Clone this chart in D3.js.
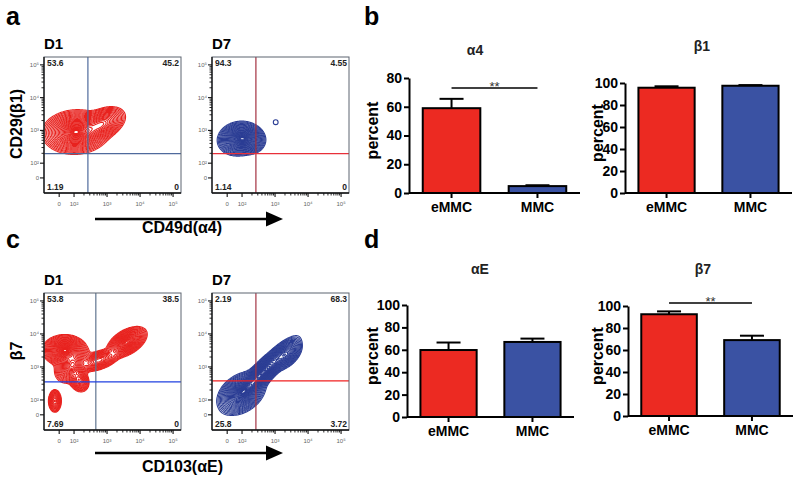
<!DOCTYPE html>
<html><head><meta charset="utf-8">
<script src="https://cdn.jsdelivr.net/npm/d3@7"></script>
<style>body{margin:0;background:#fff}svg{display:block;font-family:"Liberation Sans",Arial,sans-serif}</style>
</head><body><svg id="fig" width="800" height="484"></svg>
<script>
// ---------------- DATA ----------------
// flow-cytometry axes (display units: decades of fluorescence)
const flowDomain = [1.09, 5.24];
const flowTickValues = [1.55, 2, 3, 4, 5];
const flowTickLabels = ["0", "10²", "10³", "10⁴", "10⁵"];

// populations: [centerX, centerY, sdX, sdY, corr, weight]
const a1Blobs = [[2.05, 2.95, 0.36, 0.24, 0.05, 1.0], [2.85, 3.2, 0.27, 0.2, 0.4, 0.55]];
const a7Blobs = [[1.92, 2.75, 0.24, 0.19, 0.1, 1.0], [2.25, 2.7, 0.18, 0.16, 0, 0.5]];
const a7Outliers = [[3.02, 3.25]];
const c1Blobs = [[1.72, 3.5, 0.24, 0.17, 0, 1.0], [1.95, 3.05, 0.2, 0.2, 0.3, 0.7],
                 [2.15, 2.6, 0.12, 0.14, -0.2, 0.45], [2.75, 3.2, 0.24, 0.13, 0.5, 0.5],
                 [3.6, 3.75, 0.22, 0.17, 0.5, 0.9], [1.42, 1.97, 0.08, 0.14, 0, 0.35]];
const c7Blobs = [[1.98, 2.2, 0.27, 0.24, 0.35, 0.9], [2.65, 2.85, 0.38, 0.38, 0.9, 1.0],
                 [3.35, 3.38, 0.18, 0.18, 0.5, 0.6]];

// gates [x, y] and quadrant percentages [UL, UR, LL, LR]
const a1Gate = [2.42, 2.29], a7Gate = [2.42, 2.29], c1Gate = [2.66, 2.55], c7Gate = [2.42, 2.58];
const a1Quad = ["53.6", "45.2", "1.19", "0"];
const a7Quad = ["94.3", "4.55", "1.14", "0"];
const c1Quad = ["53.8", "38.5", "7.69", "0"];
const c7Quad = ["2.19", "68.3", "25.8", "3.72"];

// bar charts
const groups = ["eMMC", "MMC"];
const alpha4Mean = [59.0, 4.8], alpha4Err = [6.5, 0.6];
const beta1Mean = [95.7, 97.5], beta1Err = [1.3, 0.6];
const alphaEMean = [59.8, 67.0], alphaEErr = [6.7, 3.0];
const beta7Mean = [92.5, 69.0], beta7Err = [2.6, 4.0];
const ticks80 = [0, 20, 40, 60, 80];
const ticks100 = [0, 20, 40, 60, 80, 100];

// ---------------- DRAW ----------------
const svg = d3.select("#fig");
const RED = "#ec2a22", BLUE = "#3a52a3";

// panel letters
[["a", 6, 25], ["b", 364, 25], ["c", 6, 248], ["d", 364, 248]].forEach(([t, x, y]) =>
  svg.append("text").attr("x", x).attr("y", y).attr("font-size", 25).attr("font-weight", "bold").text(t));

// contour ring levels (relative density)
const ringLevels = d3.range(0, 28).map(k => { const r = 0.2 + 2.65 * Math.pow(k / 27, 1.4); return Math.exp(-r * r / 2); }).reverse();

let clipId = 0;
function flowPlot(box, blobs, color, gate, gateColors, quad, title, outliers) {
  const g = svg.append("g");
  const x = d3.scaleLinear().domain(flowDomain).range([box.x, box.x + box.w]);
  const y = d3.scaleLinear().domain(flowDomain).range([box.y + box.h, box.y]);
  g.append("text").attr("x", box.x).attr("y", box.y - 8).attr("font-size", 15).attr("font-weight", "bold").text(title);

  // density grid from populations
  const n = 160, d0 = flowDomain[0], du = (flowDomain[1] - flowDomain[0]) / (n - 1);
  const vals = new Float64Array(n * n);
  for (let j = 0; j < n; j++) for (let i = 0; i < n; i++) {
    const ux = d0 + i * du, uy = d0 + j * du;
    let s = 0;
    for (const [cx, cy, sx, sy, r, w] of blobs) {
      const dx = (ux - cx) / sx, dy = (uy - cy) / sy;
      const q = (dx * dx - 2 * r * dx * dy + dy * dy) / (1 - r * r);
      s += w * Math.exp(-q / 2);
    }
    vals[j * n + i] = s;
  }
  const mx = d3.max(vals);
  const contours = d3.contours().size([n, n]).thresholds(ringLevels.map(t => t * mx))(vals);
  const proj = d3.geoTransform({ point(px, py) { this.stream.point(x(d0 + (px - 0.5) * du), y(d0 + (py - 0.5) * du)); } });
  const path = d3.geoPath(proj);
  const id = "clip" + (clipId++);
  svg.append("clipPath").attr("id", id).append("rect").attr("x", box.x).attr("y", box.y).attr("width", box.w).attr("height", box.h);
  const cg = g.append("g").attr("clip-path", `url(#${id})`);
  cg.selectAll("path").data(contours).join("path").attr("d", path)
    .attr("fill", "none").attr("stroke", color).attr("stroke-width", 1.1);
  if (outliers) cg.selectAll("circle").data(outliers).join("circle")
    .attr("cx", d => x(d[0])).attr("cy", d => y(d[1])).attr("r", 2.4)
    .attr("fill", "none").attr("stroke", color).attr("stroke-width", 1.1);

  // gates
  g.append("line").attr("x1", x(gate[0])).attr("x2", x(gate[0])).attr("y1", box.y).attr("y2", box.y + box.h)
    .attr("stroke", gateColors[0]).attr("stroke-width", 1.2);
  g.append("line").attr("x1", box.x).attr("x2", box.x + box.w).attr("y1", y(gate[1])).attr("y2", y(gate[1]))
    .attr("stroke", gateColors[1]).attr("stroke-width", 1.2);

  // frame
  g.append("rect").attr("x", box.x).attr("y", box.y).attr("width", box.w).attr("height", box.h)
    .attr("fill", "none").attr("stroke", "#5d6470").attr("stroke-width", 1);

  // axes
  const minor = [];
  for (let d = 2; d <= 4; d++) for (let k = 2; k <= 9; k++) minor.push(d + Math.log10(k));
  const ax = g.append("g").attr("stroke", "#111");
  const yb = box.y + box.h;
  ax.selectAll(".xm").data(flowTickValues).join("line").attr("x1", d => x(d)).attr("x2", d => x(d)).attr("y1", yb).attr("y2", yb + 4).attr("stroke-width", 1.1);
  ax.selectAll(".xn").data(minor).join("line").attr("x1", d => x(d)).attr("x2", d => x(d)).attr("y1", yb).attr("y2", yb + 2.5).attr("stroke-width", 0.9);
  ax.selectAll(".ym").data(flowTickValues).join("line").attr("y1", d => y(d)).attr("y2", d => y(d)).attr("x1", box.x).attr("x2", box.x - 4).attr("stroke-width", 1.1);
  ax.selectAll(".yn").data(minor).join("line").attr("y1", d => y(d)).attr("y2", d => y(d)).attr("x1", box.x).attr("x2", box.x - 2.5).attr("stroke-width", 0.9);
  g.append("line").attr("x1", box.x).attr("x2", box.x + box.w).attr("y1", yb).attr("y2", yb).attr("stroke", "#111").attr("stroke-width", 1.3);
  g.append("line").attr("x1", box.x).attr("x2", box.x).attr("y1", box.y).attr("y2", yb).attr("stroke", "#111").attr("stroke-width", 1.3);
  g.selectAll(".xl").data(flowTickValues).join("text").attr("x", d => x(d)).attr("y", yb + 13)
    .attr("text-anchor", "middle").attr("font-size", 6).attr("fill", "#666").text((d, i) => flowTickLabels[i]);
  g.selectAll(".yl").data(flowTickValues).join("text").attr("x", box.x - 5).attr("y", d => y(d) + 2)
    .attr("text-anchor", "end").attr("font-size", 6).attr("fill", "#666").text((d, i) => flowTickLabels[i]);

  // quadrant numbers
  const qs = { "font-size": 8.5, "font-weight": "bold", fill: "#222" };
  const qpos = [[box.x + 3, box.y + 9, "start"], [box.x + box.w - 2, box.y + 9, "end"],
                [box.x + 3, box.y + box.h - 3, "start"], [box.x + box.w - 2, box.y + box.h - 3, "end"]];
  qpos.forEach(([tx, ty, anc], i) => {
    const t = g.append("text").attr("x", tx).attr("y", ty).attr("text-anchor", anc).text(quad[i]);
    Object.entries(qs).forEach(([k, v]) => t.attr(k, v));
  });
}

flowPlot({ x: 44, y: 57, w: 137, h: 136 }, a1Blobs, "#e8231f", a1Gate, ["#4f6a9c", "#4f6a9c"], a1Quad, "D1");
flowPlot({ x: 212, y: 57, w: 137, h: 136 }, a7Blobs, "#2b3d94", a7Gate, ["#a33040", "#e8303a"], a7Quad, "D7", a7Outliers);
flowPlot({ x: 44, y: 293, w: 137, h: 137 }, c1Blobs, "#e8231f", c1Gate, ["#607590", "#2040e0"], c1Quad, "D1");
flowPlot({ x: 212, y: 293, w: 137, h: 137 }, c7Blobs, "#2b3d94", c7Gate, ["#a33545", "#f02020"], c7Quad, "D7");

// arrows & axis titles for flow panels
function arrow(yLine, label, yText) {
  svg.append("line").attr("x1", 95).attr("x2", 268).attr("y1", yLine).attr("y2", yLine).attr("stroke", "#000").attr("stroke-width", 2.6);
  svg.append("path").attr("d", `M283,${yLine} L266,${yLine - 7.5} L266,${yLine + 7.5} Z`).attr("fill", "#000");
  svg.append("text").attr("x", 142).attr("y", yText).attr("font-size", 16).attr("font-weight", "bold").text(label);
}
arrow(219, "CD49d(α4)", 233);
arrow(453, "CD103(αE)", 472);
function yTitle(x, y, label) {
  svg.append("text").attr("transform", `translate(${x},${y}) rotate(-90)`).attr("text-anchor", "middle")
    .attr("font-size", 16).attr("font-weight", "bold").text(label);
}
yTitle(22, 124, "CD29(β1)");
yTitle(22, 351, "β7");

// bar charts
function barChart(o) {
  const g = svg.append("g");
  const y = d3.scaleLinear().domain([0, o.max]).range([o.y0, o.yTop]);
  const x = d3.scaleBand().domain(groups).range([o.ax, o.xEnd]).paddingInner(0.33).paddingOuter(0.16);
  g.selectAll("rect").data(groups).join("rect")
    .attr("x", d => x(d)).attr("width", x.bandwidth())
    .attr("y", (d, i) => y(o.mean[i])).attr("height", (d, i) => o.y0 - y(o.mean[i]))
    .attr("fill", (d, i) => i === 0 ? RED : BLUE).attr("stroke", "#000").attr("stroke-width", 2);
  // error bars (upper)
  groups.forEach((d, i) => {
    const cx = x(d) + x.bandwidth() / 2, top = y(o.mean[i] + o.err[i]);
    g.append("line").attr("x1", cx).attr("x2", cx).attr("y1", y(o.mean[i])).attr("y2", top).attr("stroke", "#000").attr("stroke-width", 2);
    g.append("line").attr("x1", cx - 12).attr("x2", cx + 12).attr("y1", top).attr("y2", top).attr("stroke", "#000").attr("stroke-width", 2);
  });
  const ya = g.append("g").attr("transform", `translate(${o.ax},0)`)
    .call(d3.axisLeft(y).tickValues(o.ticks).tickSize(5).tickSizeOuter(0).tickPadding(2));
  ya.select(".domain").attr("stroke-width", 2);
  ya.selectAll(".tick line").attr("stroke-width", 2);
  ya.selectAll("text").attr("font-size", 14).attr("font-weight", "bold").attr("font-family", "Liberation Sans, Arial, sans-serif").attr("fill", "#000");
  const xa = g.append("g").attr("transform", `translate(0,${o.y0})`)
    .call(d3.axisBottom(x).tickSize(5).tickSizeOuter(0).tickPadding(4));
  xa.select(".domain").attr("stroke-width", 2).attr("d", `M${o.ax},0H${o.xEnd}`);
  xa.selectAll(".tick line").attr("stroke-width", 2);
  xa.selectAll("text").attr("font-size", 14).attr("font-weight", "bold").attr("font-family", "Liberation Sans, Arial, sans-serif").attr("fill", "#000");
  g.append("text").attr("transform", `translate(${o.px},${(o.y0 + o.yTop) / 2 - 5}) rotate(-90)`).attr("text-anchor", "middle")
    .attr("font-size", 16).attr("font-weight", "bold").text("percent");
  g.append("text").attr("x", o.tx).attr("y", o.ty).attr("text-anchor", "middle").attr("font-size", 14).attr("font-weight", "bold").attr("fill", "#222").text(o.title);
  if (o.sig) {
    const x1 = x(groups[0]) + x.bandwidth() / 2, x2 = x(groups[1]) + x.bandwidth() / 2;
    g.append("line").attr("x1", x1).attr("x2", x2).attr("y1", o.sig).attr("y2", o.sig).attr("stroke", "#000").attr("stroke-width", 1.6);
    g.append("text").attr("x", (x1 + x2) / 2).attr("y", o.sig + 3).attr("text-anchor", "middle").attr("font-size", 13).attr("fill", "#333").text("**");
  }
}
barChart({ ax: 409, xEnd: 580, y0: 193, yTop: 78, max: 80, ticks: ticks80, mean: alpha4Mean, err: alpha4Err, title: "α4", tx: 475, ty: 55, px: 378, sig: 88 });
barChart({ ax: 625, xEnd: 792, y0: 193, yTop: 83, max: 100, ticks: ticks100, mean: beta1Mean, err: beta1Err, title: "β1", tx: 702, ty: 51, px: 603 });
barChart({ ax: 407, xEnd: 574, y0: 417, yTop: 305, max: 100, ticks: ticks100, mean: alphaEMean, err: alphaEErr, title: "αE", tx: 480, ty: 274, px: 378 });
barChart({ ax: 628, xEnd: 793, y0: 416, yTop: 306, max: 100, ticks: ticks100, mean: beta7Mean, err: beta7Err, title: "β7", tx: 703, ty: 274, px: 603, sig: 303 });
</script></body></html>
